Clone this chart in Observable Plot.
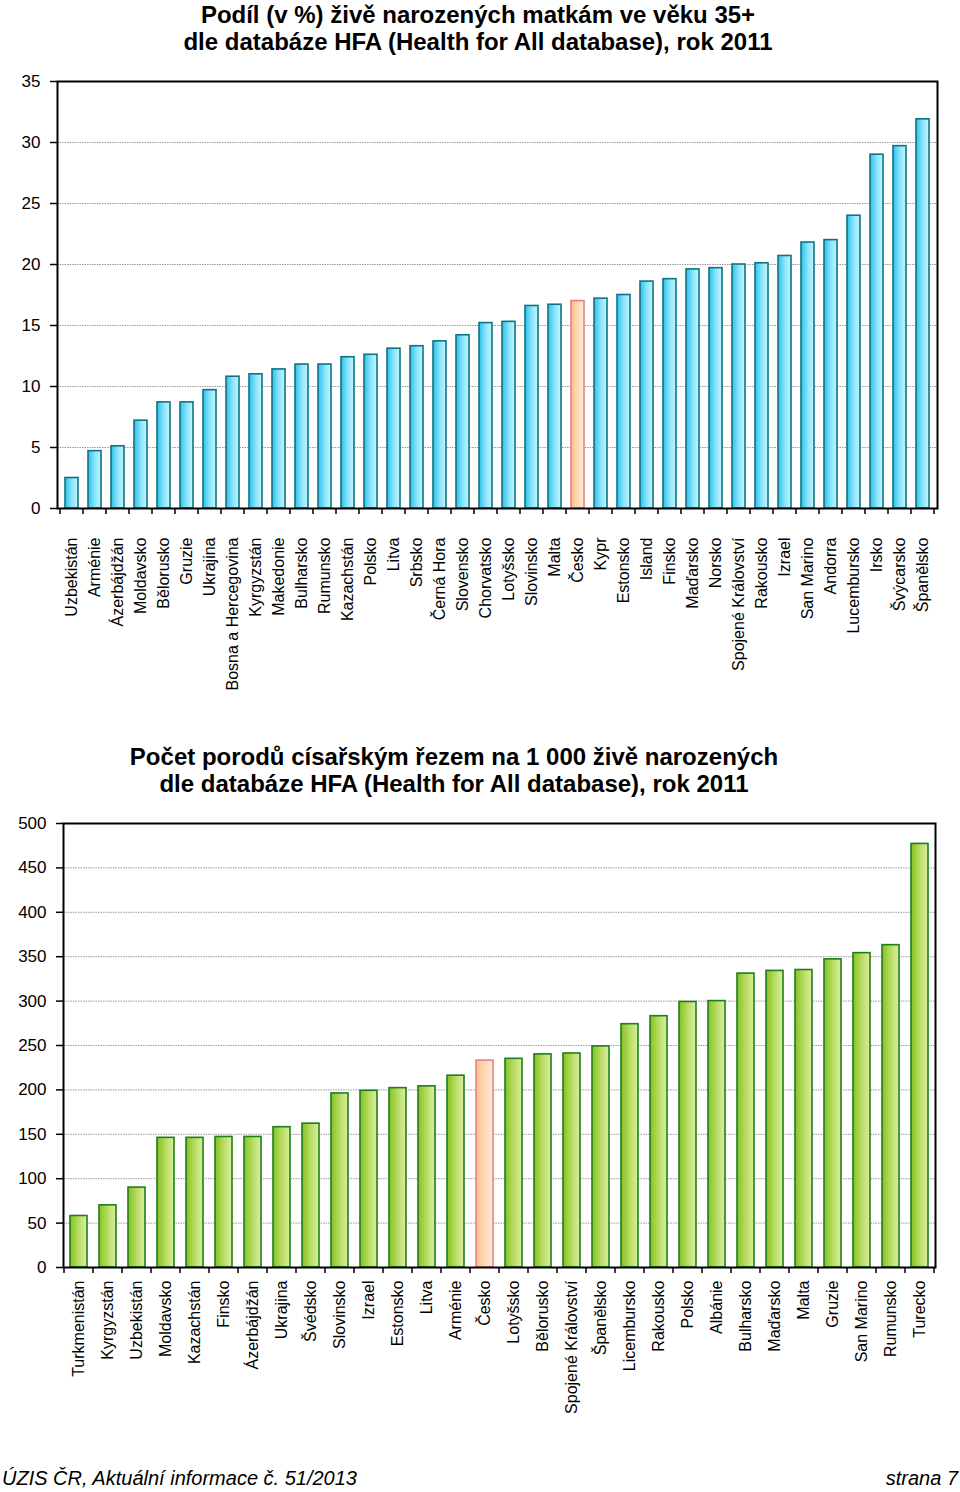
<!DOCTYPE html>
<html><head><meta charset="utf-8">
<script src="https://cdn.jsdelivr.net/npm/d3@7"></script>
<script src="https://cdn.jsdelivr.net/npm/@observablehq/plot@0.6"></script>
<style>
body{margin:0;background:#fff;font-family:"Liberation Sans",Arial,sans-serif;color:#000;}
#page{position:relative;width:960px;height:1492px;overflow:hidden;background:#fff;}
.title{position:absolute;text-align:center;font-weight:bold;font-size:24px;line-height:28px;}
.chart{position:absolute;left:0;}
.foot{position:absolute;font-style:italic;font-size:20px;font-family:"Liberation Sans Narrow","Liberation Sans",Arial,sans-serif;font-stretch:condensed;}
</style></head>
<body><div id="page">
<div class="title" id="t1" style="left:0;width:956px;top:1px;line-height:27px;">Podíl (v %) živě narozených matkám ve věku 35+<br>dle databáze HFA (Health for All database), rok 2011</div>
<div class="chart" id="c1" style="top:70px;"></div>
<div class="title" id="t2" style="left:0;width:908px;top:743px;line-height:27px;">Počet porodů císařským řezem na 1 000 živě narozených<br>dle databáze HFA (Health for All database), rok 2011</div>
<div class="chart" id="c2" style="top:810px;"></div>
<div class="foot" style="left:2px;top:1467px;">ÚZIS ČR, Aktuální informace č. 51/2013</div>
<div class="foot" style="right:2px;top:1467px;">strana 7</div>
</div>
<script>
// ---- Chart 1 data ----
const countries1 = ["Uzbekistán","Arménie","Ázerbájdžán","Moldavsko","Bělorusko","Gruzie","Ukrajina","Bosna a Hercegovina","Kyrgyzstán","Makedonie","Bulharsko","Rumunsko","Kazachstán","Polsko","Litva","Srbsko","Černá Hora","Slovensko","Chorvatsko","Lotyšsko","Slovinsko","Malta","Česko","Kypr","Estonsko","Island","Finsko","Maďarsko","Norsko","Spojené Království","Rakousko","Izrael","San Marino","Andorra","Lucembursko","Irsko","Švýcarsko","Španělsko"];
const values1 = [2.5,4.7,5.1,7.2,8.7,8.7,9.7,10.8,11.0,11.4,11.8,11.8,12.4,12.6,13.1,13.3,13.7,14.2,15.2,15.3,16.6,16.7,17.0,17.2,17.5,18.6,18.8,19.6,19.7,20.0,20.1,20.7,21.8,22.0,24.0,29.0,29.7,31.9];
const yTicks1 = [0,5,10,15,20,25,30,35];

// ---- Chart 2 data ----
const countries2 = ["Turkmenistán","Kyrgyzstán","Uzbekistán","Moldavsko","Kazachstán","Finsko","Ázerbájdžán","Ukrajina","Švédsko","Slovinsko","Izrael","Estonsko","Litva","Arménie","Česko","Lotyšsko","Bělorusko","Spojené Království","Španělsko","Licembursko","Rakousko","Polsko","Albánie","Bulharsko","Maďarsko","Malta","Gruzie","San Marino","Rumunsko","Turecko"];
const values2 = [58,70,90,146,146,147,147,158,162,196,199,202,204,216,233,235,240,241,249,274,283,299,300,331,334,335,347,354,363,477];
const yTicks2 = [0,50,100,150,200,250,300,350,400,450,500];

const highlight = "Česko";

function defs(grads) {
  return () => {
    const ns = "http://www.w3.org/2000/svg";
    const d = document.createElementNS(ns, "defs");
    for (const [id, stops] of grads) {
      const lg = document.createElementNS(ns, "linearGradient");
      lg.setAttribute("id", id);
      lg.setAttribute("x1", "0"); lg.setAttribute("x2", "1");
      lg.setAttribute("y1", "0"); lg.setAttribute("y2", "0");
      for (const [off, col] of stops) {
        const s = document.createElementNS(ns, "stop");
        s.setAttribute("offset", off); s.setAttribute("stop-color", col);
        lg.appendChild(s);
      }
      d.appendChild(lg);
    }
    return d;
  };
}

function bandTicks(cats, len) {
  return (index, scales, values, dims) => {
    const x = scales.x;
    const step = x.step(), bw = x.bandwidth();
    const gap = (step - bw) / 2;
    const y0 = dims.height - dims.marginBottom;
    const g = d3.create("svg:g").attr("stroke", "#000").attr("stroke-width", 1.5);
    const xs = cats.map(c => x(c) - gap);
    xs.push(x(cats[cats.length - 1]) + bw + gap);
    for (const xv of xs) g.append("line").attr("x1", xv).attr("x2", xv).attr("y1", y0).attr("y2", y0 + len);
    return g.node();
  };
}

function makeChart({cats, vals, ticks, max, ml, mr, mt, frameH, mb, pad, labelPad, gradMain, gradHi, strokeMain, strokeHi, idp, yPad}) {
  const data = cats.map((c, i) => ({c, v: vals[i]}));
  const gridT = ticks.filter(t => t > 0 && t < max);
  return Plot.plot({
    width: 960,
    height: mt + frameH + mb,
    marginLeft: ml, marginRight: mr, marginTop: mt, marginBottom: mb,
    style: {fontFamily: "'Liberation Sans', Arial, sans-serif", color: "#000", background: "#fff"},
    x: {domain: cats, paddingInner: pad, paddingOuter: pad / 2, axis: null},
    y: {domain: [0, max], axis: null},
    marks: [
      defs([[idp + "main", gradMain], [idp + "hi", gradHi]]),
      Plot.ruleY(gridT, {stroke: "#9a9a9a", strokeWidth: 1, strokeDasharray: "1.5,1"}),
      Plot.barY(data.filter(d => d.c !== highlight), {x: "c", y: "v", fill: `url(#${idp}main)`, stroke: strokeMain, strokeWidth: 1.6}),
      Plot.barY(data.filter(d => d.c === highlight), {x: "c", y: "v", fill: `url(#${idp}hi)`, stroke: strokeHi, strokeWidth: 1.6}),
      Plot.frame({stroke: "#000", strokeWidth: 2}),
      Plot.axisY(ticks, {tickSize: 7, tickPadding: yPad, fontSize: 17, label: null, strokeWidth: 1.5}),
      Plot.axisX({tickRotate: -90, tickSize: 0, tickPadding: labelPad, fontSize: 16, label: null}),
      bandTicks(cats, 6)
    ]
  });
}

document.getElementById("c1").appendChild(makeChart({
  cats: countries1, vals: values1, ticks: yTicks1, max: 35,
  ml: 57, mr: 23, mt: 11, frameH: 427, mb: 190, pad: 0.44, labelPad: 29, yPad: 10,
  gradMain: [["0", "#2cc2ec"], ["0.55", "#8fe6fb"], ["1", "#c2f4ff"]],
  gradHi: [["0", "#ffc28c"], ["1", "#ffeedd"]],
  strokeMain: "#0f7383", strokeHi: "#e88080", idp: "g1"
}));

document.getElementById("c2").appendChild(makeChart({
  cats: countries2, vals: values2, ticks: yTicks2, max: 500,
  ml: 63, mr: 25, mt: 13, frameH: 444, mb: 150, pad: 0.42, labelPad: 13, yPad: 10,
  gradMain: [["0", "#86c21e"], ["0.6", "#bfe070"], ["1", "#daee9c"]],
  gradHi: [["0", "#ffc08a"], ["1", "#ffeedd"]],
  strokeMain: "#1e7d1e", strokeHi: "#e88080", idp: "g2"
}));
</script>
</body></html>
